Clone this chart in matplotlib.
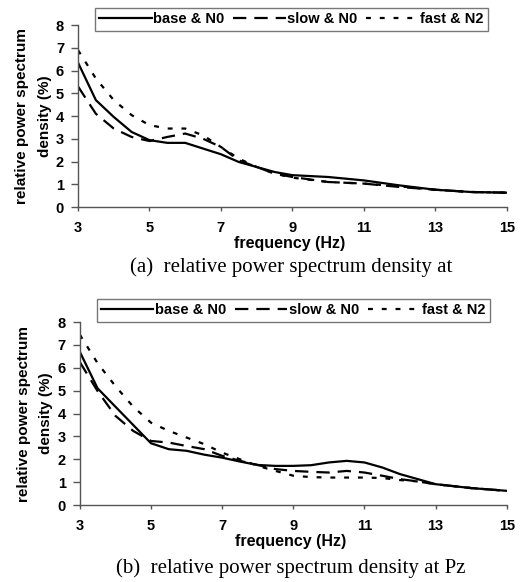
import numpy as np
import matplotlib.pyplot as plt

freq_a = [3, 3.5, 4, 4.5, 5, 5.5, 6, 6.5, 7, 7.5, 8, 8.5, 9, 10, 11, 12, 13, 14, 15]
base_a = [6.35, 4.7, 3.96, 3.3, 2.94, 2.82, 2.82, 2.57, 2.32, 1.98, 1.76, 1.54, 1.4, 1.32, 1.17, 0.95, 0.76, 0.66, 0.63]
slow_a = [5.3, 4.1, 3.45, 3.08, 2.9, 3.08, 3.23, 3.0, 2.64, 2.05, 1.76, 1.47, 1.32, 1.1, 1.03, 0.88, 0.76, 0.66, 0.63]
fast_a = [6.9, 5.65, 4.7, 4.04, 3.6, 3.45, 3.45, 3.15, 2.64, 2.13, 1.76, 1.47, 1.29, 1.1, 1.03, 0.91, 0.76, 0.66, 0.63]

freq_b = [3, 3.5, 4, 4.5, 5, 5.5, 6, 6.5, 7, 7.5, 8, 8.5, 9, 9.5, 10, 10.5, 11, 11.5, 12, 12.5, 13, 14, 15]
base_b = [6.7, 5.1, 4.3, 3.5, 2.7, 2.44, 2.37, 2.2, 2.07, 1.9, 1.75, 1.71, 1.71, 1.74, 1.86, 1.93, 1.86, 1.64, 1.35, 1.13, 0.91, 0.74, 0.62]
slow_b = [6.25, 4.98, 3.9, 3.24, 2.8, 2.73, 2.58, 2.44, 2.15, 1.93, 1.75, 1.57, 1.49, 1.45, 1.42, 1.49, 1.42, 1.28, 1.13, 1.03, 0.91, 0.74, 0.62]
fast_b = [7.45, 6.2, 5.2, 4.3, 3.6, 3.24, 2.95, 2.66, 2.29, 2.0, 1.71, 1.49, 1.28, 1.22, 1.2, 1.2, 1.2, 1.18, 1.09, 1.03, 0.91, 0.74, 0.62]

labels = ['base & N0', 'slow & N0', 'fast & N2']
xticks = [3, 5, 7, 9, 11, 13, 15]
yticks = [0, 1, 2, 3, 4, 5, 6, 7, 8]

plt.rcParams['font.family'] = ['Liberation Sans', 'DejaVu Sans']

fig = plt.figure(figsize=(5.32, 5.82), dpi=100)
ax_a = fig.add_axes([0.1466, 0.6443, 0.806, 0.3127])
ax_b = fig.add_axes([0.150, 0.1323, 0.8026, 0.3144])


def draw_panel(ax, freq, base, slow, fast, leg_xy, caption, cap_y):
    ax.plot(freq, base, color='black', lw=1.6, ls='-', label=labels[0])
    ax.plot(freq, slow, color='black', lw=1.6, ls=(0, (6.0, 3.6)), label=labels[1])
    ax.plot(freq, fast, color='black', lw=1.6, ls=(0, (2.2, 4.0)), label=labels[2])
    ax.set_xlim(3, 15)
    ax.set_ylim(0, 8)
    ax.set_xticks(xticks)
    ax.set_yticks(yticks)
    for s in ['top', 'right']:
        ax.spines[s].set_visible(False)
    for s in ['left', 'bottom']:
        ax.spines[s].set_color('#555555')
        ax.spines[s].set_linewidth(1.0)
    ax.tick_params(axis='y', length=5, width=1, color='#555555', pad=5,
                   labelsize=10.5)
    ax.tick_params(axis='x', length=3, width=1, color='#555555', pad=7,
                   labelsize=10.5)
    for t in ax.get_xticklabels() + ax.get_yticklabels():
        t.set_fontweight('bold')
    ax.text(0.494, -0.198, 'frequency (Hz)', transform=ax.transAxes,
            ha='center', va='center', fontsize=11.5, fontweight='bold')
    ax.set_ylabel('relative power spectrum\ndensity (%)', fontsize=11,
                  fontweight='bold', labelpad=3, linespacing=1.8)
    leg = fig.legend(*ax.get_legend_handles_labels(), loc='center',
                     bbox_to_anchor=leg_xy, ncol=3, frameon=True,
                     fancybox=False, edgecolor='#555555', handlelength=3.6,
                     handletextpad=0.1, columnspacing=0.6, borderpad=0.3,
                     prop={'size': 10.5, 'weight': 'bold'})
    leg.get_frame().set_linewidth(1.0)
    fig.text(0.547, cap_y, caption, ha='center', va='center', fontsize=15,
             family=['Liberation Serif', 'DejaVu Serif'])


draw_panel(ax_a, freq_a, base_a, slow_a, fast_a, (0.548, 0.9665),
           '(a)  relative power spectrum density at', 0.541)
draw_panel(ax_b, freq_b, base_b, slow_b, fast_b, (0.551, 0.467),
           '(b)  relative power spectrum density at Pz', 0.024)

fig.savefig('out.png', dpi=100)
